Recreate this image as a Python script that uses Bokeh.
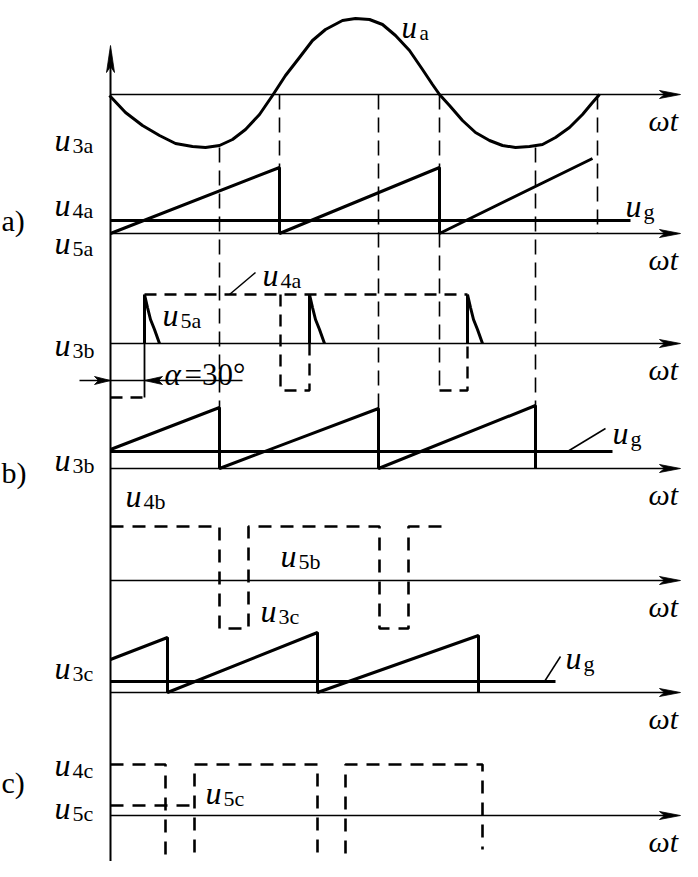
from bokeh.plotting import figure
from bokeh.models import Range1d
from bokeh.core.properties import value
from bokeh.embed import file_html
from bokeh.resources import INLINE

# ---------------- data (diagram units = picture pixels, y downward) -------------
axis_x0 = 118
axis_tip = 688
axis_rows = [102, 241, 351, 476, 588, 700, 823]
vaxis_top = 53
vaxis_bottom = 880

# u_a sine-like curve
ua_x = [117, 133, 150, 167, 183, 200, 213, 227, 240, 253, 267, 280, 293, 307, 320, 333, 350,
        363, 377, 390, 403, 417, 430, 440, 447, 457, 470, 483, 497, 510, 523, 537, 550, 563,
        577, 590, 600, 607]
ua_y = [103, 120, 133, 143, 151, 154, 155, 153, 147, 137, 122, 103, 83, 65, 48, 37, 28,
        26, 27, 32, 43, 58, 77, 92, 102, 113, 128, 140, 148, 153, 155, 154, 152, 145,
        135, 122, 110, 102]

# sawtooth waves
saw_a_x = [118, 287, 287, 447, 447, 600]
saw_a_y = [241, 175, 241, 175, 241, 166]
saw_b_x = [118, 227, 227, 386, 386, 543, 543]
saw_b_y = [457, 415, 476, 416, 476, 413, 476]
saw_c_x = [118, 175, 175, 325, 325, 486, 486]
saw_c_y = [667, 645, 700, 640, 700, 643, 700]

# control voltage u_g levels
ug_y = [228, 459, 689]
ug_x_end = [638, 620, 563]

# dashed guide verticals
guide_x = [227, 287, 386, 447, 543, 605]
guide_top = [155, 102, 102, 102, 155, 102]
guide_bot = [415, 175, 416, 398, 413, 241]

# u_4a dashed waveform (panel a, lower)
u4a_paths_x = [[118, 152], [152, 475], [288, 288, 317, 317], [447, 475, 475]]
u4a_paths_y = [[405, 405], [302, 302], [302, 398, 398, 351], [398, 398, 351]]
u4a_step_x = [152, 152]
u4a_step_y = [351, 405]

# u_5a spikes
spike_x0 = [152, 317, 475]
spike_dx = [0, 0, 3, 6, 10, 15]
spike_y = [351, 302, 315, 327, 337, 351]

# u_4b dashed waveform
u4b_x = [118, 227, 227, 256, 256, 387, 387, 416, 416, 452]
u4b_y = [534, 534, 636, 636, 534, 534, 636, 636, 534, 534]

# u_4c / u_5c dashed waveforms
u4c_x = [118, 173, 173, 202, 202, 325, 325, 353, 353, 490, 490]
u4c_y = [772, 772, 873, 873, 772, 772, 873, 873, 772, 772, 857]
u5c_x = [118, 202]
u5c_y = [813, 813]

# leader lines
leader_x = [[237, 263], [575, 613], [552, 568]]
leader_y = [[302, 280], [459, 436], [689, 664]]

# alpha dimension
alpha_line_x = [87, 250]
alpha_y = 388
alpha_left_tip = 118
alpha_right_tip = 152

# labels: (subscript, x, baseline)
u_subs = ["3a", "4a", "5a", "3b", "3b", "4b", "5b", "3c", "3c", "4c", "5c", "5c",
          "g", "4a", "5a", "g", "g"]
u_x = [62, 62, 62, 62, 62, 133, 288, 268, 62, 62, 62, 213, 633, 270, 170, 620, 573]
u_y = [147, 212, 250, 352, 467, 503, 563, 618, 675, 772, 815, 800, 213, 282, 322, 440, 665]

# top label u_a (beside the crest, kept inside the page)
ua_label_x = 409
ua_label_y = 35
ua_sub_y = 40

panel_labels = ["a)", "b)", "c)"]
panel_x = [9, 9, 9]
panel_y = [228, 480, 790]

wt_x = 656
wt_dy = 26

# ---------------- figure -------------
p = figure(width=682, height=861, x_range=Range1d(8, 690), y_range=Range1d(869, 8),
           output_backend="svg", toolbar_location=None, min_border=0,
           x_axis_location=None, y_axis_location=None)
p.grid.visible = False
p.outline_line_color = None
p.background_fill_color = "white"
p.border_fill_color = "white"

K = "black"
SERIF = value("Liberation Serif")

# axes
p.segment(x0=[axis_x0] * len(axis_rows), y0=axis_rows, x1=[axis_tip - 6] * len(axis_rows),
          y1=axis_rows, line_color=K, line_width=1.6)
p.patches(xs=[[axis_tip, axis_tip - 21, axis_tip - 16, axis_tip - 21] for _ in axis_rows],
          ys=[[r, r - 4, r, r + 4] for r in axis_rows], fill_color=K, line_color=K, line_width=0.8)
p.segment(x0=[axis_x0], y0=[vaxis_top + 8], x1=[axis_x0], y1=[vaxis_bottom], line_color=K, line_width=2)
p.patches(xs=[[axis_x0, axis_x0 - 4, axis_x0, axis_x0 + 4]],
          ys=[[vaxis_top, vaxis_top + 27, vaxis_top + 21, vaxis_top + 27]],
          fill_color=K, line_color=K, line_width=0.8)

# dashed guides
p.segment(x0=guide_x, y0=guide_top, x1=guide_x, y1=guide_bot, line_color=K, line_width=1.6,
          line_dash="15 8")

# sine
p.line(ua_x, ua_y, line_color=K, line_width=3, line_join="round")

# sawtooths
for sx, sy in [(saw_a_x, saw_a_y), (saw_b_x, saw_b_y), (saw_c_x, saw_c_y)]:
    p.line(sx, sy, line_color=K, line_width=3)

# u_g
p.segment(x0=[axis_x0] * 3, y0=ug_y, x1=ug_x_end, y1=ug_y, line_color=K, line_width=3.2)

# u_4a
p.multi_line(xs=u4a_paths_x, ys=u4a_paths_y, line_color=K, line_width=2.4, line_dash="12 8")
p.line(u4a_step_x, u4a_step_y, line_color=K, line_width=1.8)

# u_5a spikes
p.multi_line(xs=[[x0 + d for d in spike_dx] for x0 in spike_x0],
             ys=[spike_y for _ in spike_x0], line_color=K, line_width=3)

# u_4b, u_4c, u_5c
p.line(u4b_x, u4b_y, line_color=K, line_width=2.6, line_dash="13 9")
p.line(u4c_x, u4c_y, line_color=K, line_width=2.6, line_dash="13 9")
p.line(u5c_x, u5c_y, line_color=K, line_width=2.6, line_dash="13 9")

# leaders
p.multi_line(xs=leader_x, ys=leader_y, line_color=K, line_width=1.5)

# alpha dimension
p.line(alpha_line_x, [alpha_y, alpha_y], line_color=K, line_width=1.5)
p.patches(xs=[[alpha_left_tip, alpha_left_tip - 16, alpha_left_tip - 12, alpha_left_tip - 16],
              [alpha_right_tip, alpha_right_tip + 18, alpha_right_tip + 14, alpha_right_tip + 18]],
          ys=[[alpha_y, alpha_y - 4, alpha_y, alpha_y + 4], [alpha_y, alpha_y - 4, alpha_y, alpha_y + 4]],
          fill_color=K, line_color=K, line_width=0.8)

# texts
p.text(x=u_x, y=u_y, text=["u"] * len(u_x), text_font=SERIF, text_font_style="italic",
       text_font_size="32px", text_baseline="alphabetic", text_align="left", text_color=K)
p.text(x=[x + 18 for x in u_x], y=[y + 6 for y in u_y], text=u_subs, text_font=SERIF,
       text_font_size="22px", text_baseline="alphabetic", text_align="left", text_color=K)
p.text(x=[ua_label_x], y=[ua_label_y], text=["u"], text_font=SERIF, text_font_style="italic",
       text_font_size="31px", text_baseline="alphabetic", text_align="left", text_color=K)
p.text(x=[ua_label_x + 18], y=[ua_sub_y], text=["a"], text_font=SERIF,
       text_font_size="21px", text_baseline="alphabetic", text_align="left", text_color=K)
p.text(x=[wt_x] * len(axis_rows), y=[r + wt_dy for r in axis_rows], text=["ωt"] * len(axis_rows),
       text_font=SERIF, text_font_style="italic", text_font_size="30px",
       text_baseline="alphabetic", text_align="left", text_color=K)
p.text(x=panel_x, y=panel_y, text=panel_labels, text_font=SERIF, text_font_size="30px",
       text_baseline="alphabetic", text_align="left", text_color=K)
p.text(x=[172], y=[382], text=["α"], text_font=SERIF, text_font_style="italic",
       text_font_size="31px", text_baseline="alphabetic", text_align="left", text_color=K)
p.text(x=[192], y=[382], text=["=30°"], text_font=SERIF,
       text_font_size="31px", text_baseline="alphabetic", text_align="left", text_color=K)

open("out.html", "w").write(file_html(p, INLINE))
